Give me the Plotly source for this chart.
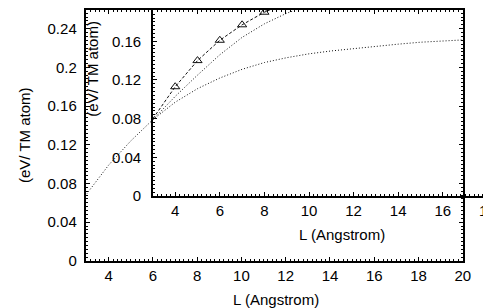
import plotly.graph_objects as go

W, H = 491, 308

# ---- data ----
main_L = [3, 4, 5, 6]
main_E = [0.069, 0.099, 0.124, 0.146]

inset_L_tri = [3, 4, 5, 6, 7, 8, 9, 10]
inset_E_tri = [0.080, 0.113, 0.140, 0.161, 0.177, 0.190, 0.200, 0.209]

inset_L_mid = [3, 4, 5, 6, 7, 8, 9, 10]
inset_E_mid = [0.079, 0.103, 0.125, 0.146, 0.164, 0.178, 0.189, 0.197]

inset_L_low = [3, 4, 5, 6, 7, 8, 9, 10, 11, 12, 13, 14, 15, 16, 17]
inset_E_low = [0.079, 0.097, 0.111, 0.122, 0.131, 0.138, 0.143, 0.147,
               0.150, 0.1525, 0.155, 0.157, 0.159, 0.1605, 0.1615]

x_title = "L (Angstrom)"
y_title = "(eV/ TM atom)"

FONT = "Liberation Sans, Arial, sans-serif"
FS = 15
INK = "#111111"

def px_x(p):
    return p / W

def px_y(p):
    return 1 - p / H

fig = go.Figure()

fig.add_trace(go.Scatter(x=main_L, y=main_E, mode="lines",
                         line=dict(color=INK, width=1, dash="1px,2px"),
                         xaxis="x", yaxis="y", showlegend=False))

fig.add_trace(go.Scatter(x=inset_L_low, y=inset_E_low, mode="lines",
                         line=dict(color=INK, width=1, dash="1px,2px"),
                         xaxis="x2", yaxis="y2", showlegend=False))
fig.add_trace(go.Scatter(x=inset_L_mid, y=inset_E_mid, mode="lines",
                         line=dict(color=INK, width=1, dash="1px,2px"),
                         xaxis="x2", yaxis="y2", showlegend=False))
fig.add_trace(go.Scatter(x=inset_L_tri, y=inset_E_tri, mode="lines",
                         line=dict(color=INK, width=1, dash="3px,2px"),
                         xaxis="x2", yaxis="y2", showlegend=False))
fig.add_trace(go.Scatter(x=inset_L_tri[1:], y=inset_E_tri[1:], mode="markers",
                         marker=dict(symbol="triangle-up-open", size=8,
                                     color=INK, line=dict(width=1, color=INK)),
                         xaxis="x2", yaxis="y2", showlegend=False))

axis_common = dict(showline=True, linecolor="black", linewidth=1.5,
                   ticks="inside", ticklen=4, tickwidth=1, tickcolor="black",
                   showgrid=False, zeroline=False,
                   tickfont=dict(family=FONT, size=FS, color="black"))

inset_x0 = 147.3
inset_pxu = 22.67

fig.update_layout(
    width=W, height=H,
    margin=dict(l=0, r=0, t=0, b=0),
    paper_bgcolor="white",
    plot_bgcolor="rgba(0,0,0,0)",
    font=dict(family=FONT, size=FS, color="black"),
    xaxis=dict(domain=[px_x(79.8), px_x(462.3)], range=[3, 20],
               tick0=0, dtick=2, mirror="ticks", anchor="y",
               minor=dict(dtick=0.2, ticklen=2, ticks="inside", tickcolor="black"),
               **axis_common),
    yaxis=dict(domain=[px_y(259.3), 1], range=[0, 0.2593],
               tick0=0, dtick=0.04, mirror="ticks", anchor="x",
               ticklabelstandoff=5,
               minor=dict(dtick=0.004, ticklen=2, ticks="inside", tickcolor="black"),
               **axis_common),
    xaxis2=dict(domain=[px_x(inset_x0), 1],
                range=[3, 3 + (W - inset_x0) / inset_pxu],
                tick0=0, dtick=2, anchor="y2",
                minor=dict(dtick=0.2, ticklen=2, ticks="inside", tickcolor="black"),
                **axis_common),
    yaxis2=dict(domain=[px_y(192.3), 1], range=[0, 0.1923],
                tick0=0, dtick=0.04, anchor="x2",
                ticklabelstandoff=7,
                minor=dict(dtick=0.004, ticklen=2, ticks="inside", tickcolor="black"),
                **axis_common),
    annotations=[
        dict(text=y_title, x=px_x(17), y=px_y(129.5), xref="paper", yref="paper",
             textangle=-90, showarrow=False, xanchor="center", yanchor="middle",
             font=dict(family=FONT, size=FS, color="black")),
        dict(text=x_title, x=px_x(272), y=px_y(299), xref="paper", yref="paper",
             showarrow=False, xanchor="center", yanchor="middle",
             font=dict(family=FONT, size=FS, color="black")),
        dict(text=y_title, x=px_x(85), y=px_y(61), xref="paper", yref="paper",
             textangle=-90, showarrow=False, xanchor="center", yanchor="middle",
             font=dict(family=FONT, size=FS, color="black")),
        dict(text=x_title, x=px_x(340), y=px_y(232), xref="paper", yref="paper",
             showarrow=False, xanchor="center", yanchor="middle",
             font=dict(family=FONT, size=FS, color="black")),
    ],
)

fig.write_html("out.html")
